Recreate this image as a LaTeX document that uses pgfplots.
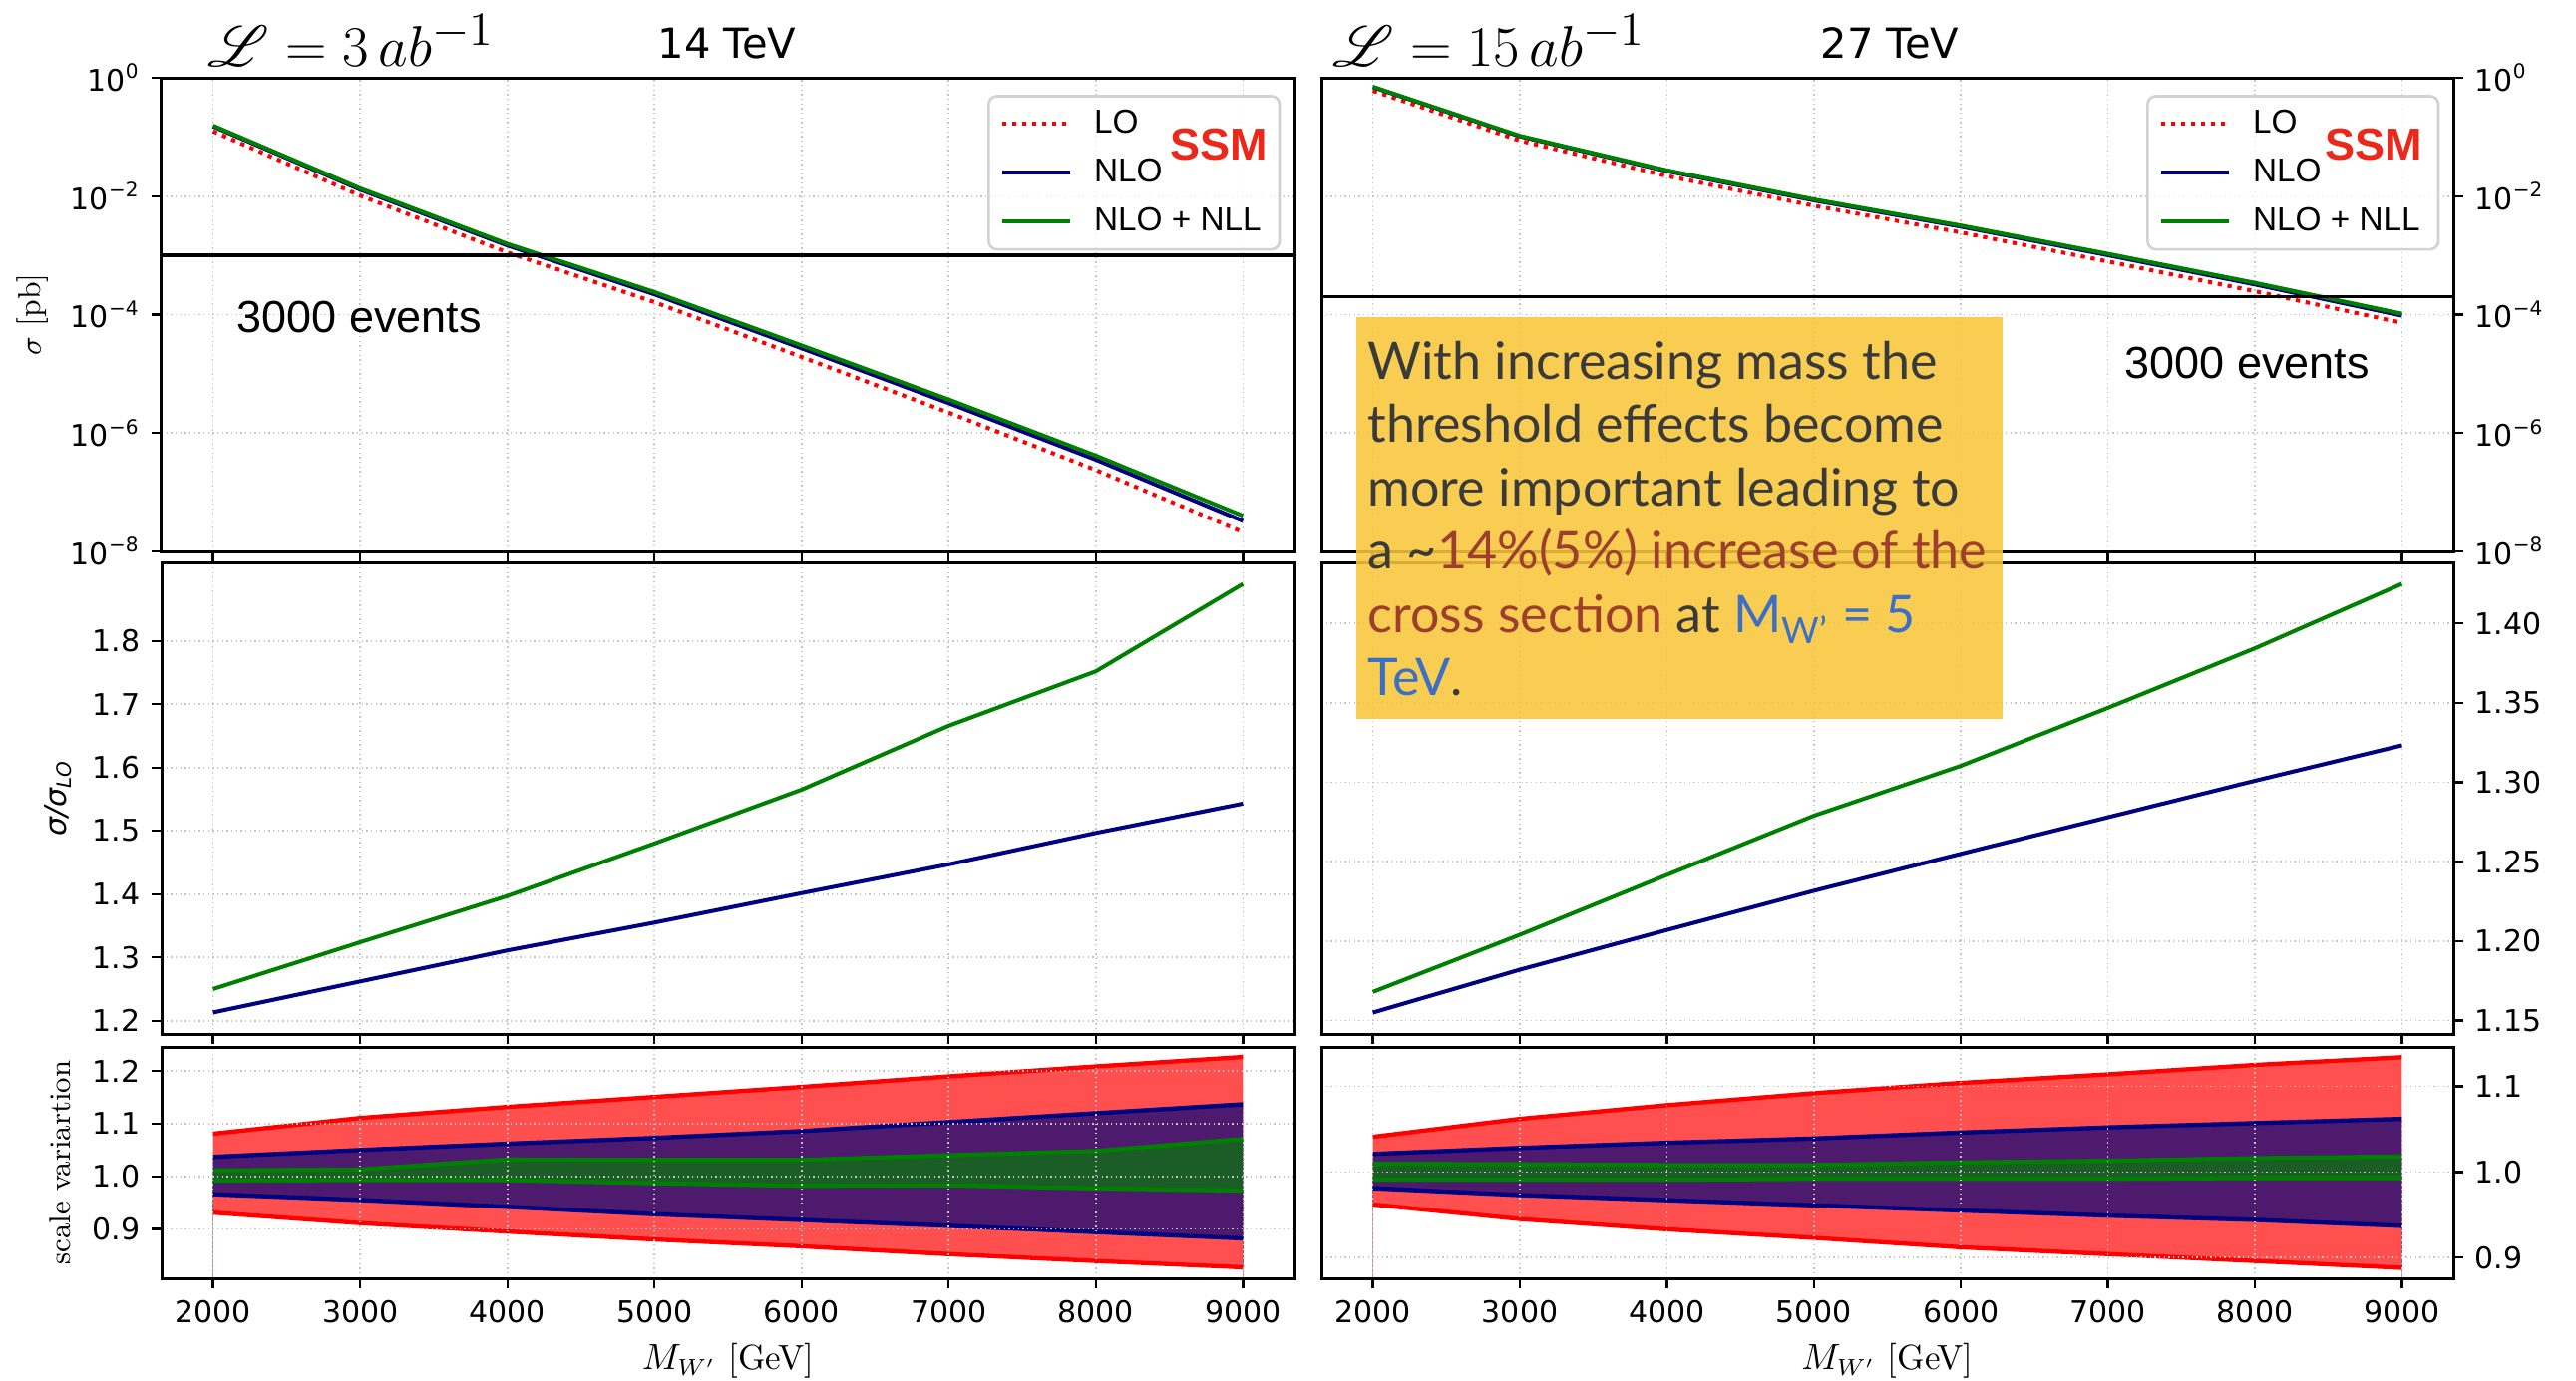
\documentclass[border=0pt]{standalone}
\usepackage{pgfplots}
\pgfplotsset{compat=1.18}
\usepackage{pgfplotstable}
\usepackage{mathrsfs}
\usepackage{fontspec}
\newfontfamily\dejavu{DejaVu Sans}
\newfontfamily\arial{Liberation Sans}
\newfontfamily\boxfont{Lato}

\definecolor{lored}{RGB}{255,0,0}
\definecolor{nlonavy}{RGB}{0,0,128}
\definecolor{nllgreen}{RGB}{0,128,0}
\definecolor{redfill}{RGB}{255,79,79}
\definecolor{purplefill}{RGB}{78,26,110}
\definecolor{greenfill}{RGB}{28,92,38}
\definecolor{boxyellow}{RGB}{247,198,58}
\definecolor{boxtext}{RGB}{58,58,58}
\definecolor{boxred}{RGB}{158,63,46}
\definecolor{boxblue}{RGB}{60,111,198}
\definecolor{ssmred}{RGB}{235,40,25}

% cross sections [pb], 14 TeV
\pgfplotstableread{
m lo nlo nll
2000 0.1245 0.1510 0.1556
3000 0.01023 0.01291 0.01354
4000 1.122e-3 1.471e-3 1.567e-3
5000 1.622e-4 2.198e-4 2.401e-4
6000 1.928e-5 2.702e-5 3.017e-5
7000 2.213e-6 3.202e-6 3.687e-6
8000 2.371e-7 3.549e-7 4.154e-7
9000 2.113e-8 3.260e-8 3.994e-8
}\xsecL
% cross sections [pb], 27 TeV
\pgfplotstableread{
m lo nlo nll
2000 0.6026 0.6960 0.7038
3000 0.08690 0.10272 0.10463
4000 0.02198 0.02653 0.02729
5000 6.902e-3 8.501e-3 8.828e-3
6000 2.438e-3 3.060e-3 3.195e-3
7000 7.889e-4 1.008e-3 1.0626e-3
8000 2.483e-4 3.230e-4 3.437e-4
9000 7.261e-5 9.609e-5 1.0347e-4
}\xsecR
% ratios to LO
\pgfplotstableread{
m rnlo rnll
2000 1.213 1.250
3000 1.262 1.324
4000 1.311 1.397
5000 1.355 1.480
6000 1.4015 1.565
7000 1.447 1.666
8000 1.4967 1.752
9000 1.543 1.890
}\ratioL
\pgfplotstableread{
m rnlo rnll
2000 1.155 1.168
3000 1.182 1.204
4000 1.207 1.2417
5000 1.2317 1.279
6000 1.255 1.3104
7000 1.278 1.3469
8000 1.301 1.3844
9000 1.3233 1.425
}\ratioR
% scale variation bands
\pgfplotstableread{
m ru rl bu bl gu gl
2000 1.081 0.931 1.037 0.966 1.011 0.992
3000 1.111 0.911 1.050 0.955 1.013 0.993
4000 1.132 0.895 1.062 0.942 1.032 0.993
5000 1.151 0.880 1.073 0.928 1.031 0.987
6000 1.170 0.867 1.086 0.917 1.031 0.982
7000 1.190 0.852 1.103 0.906 1.040 0.983
8000 1.209 0.839 1.120 0.894 1.048 0.977
9000 1.227 0.827 1.137 0.882 1.071 0.973
}\bandL
\pgfplotstableread{
m ru rl bu bl gu gl
2000 1.041 0.962 1.021 0.981 1.0095 0.991
3000 1.062 0.945 1.028 0.973 1.009 0.991
4000 1.078 0.933 1.034 0.967 1.008 0.991
5000 1.092 0.923 1.039 0.961 1.008 0.992
6000 1.104 0.912 1.046 0.955 1.011 0.992
7000 1.114 0.904 1.052 0.949 1.013 0.992
8000 1.125 0.896 1.057 0.944 1.016 0.993
9000 1.134 0.888 1.062 0.937 1.018 0.993
}\bandR

\pgfplotsset{
  base/.style={
    scale only axis, anchor=north west,
    xmin=1650, xmax=9350,
    xtick={2000,3000,4000,5000,6000,7000,8000,9000},
    grid=major,
    major grid style={densely dotted, gray!45, line width=0.5pt},
    tick align=outside, major tick length=3pt,
    xtick pos=left,
    axis line style={line width=0.9pt},
    tick style={black, line width=0.7pt},
    ticklabel style={font=\dejavu\fontsize{9}{10}\selectfont},
    legend image code/.code={\draw[##1] (0pt,0pt) -- (20.5pt,0pt);},
    legend style={draw=gray!35, line width=0.8pt, rounded corners=2.5pt,
      fill=white, fill opacity=0.8, text opacity=1,
      font=\arial\fontsize{10}{12}\selectfont,
      row sep=2pt, column sep=4.5pt, inner xsep=3.5pt, inner ysep=2pt,
      cells={anchor=west, inner sep=0pt, text height=7.2pt, text depth=0pt}},
  },
  lostyle/.style={lored, line width=1.2pt, dash pattern=on 1.3pt off 1.7pt},
  nlostyle/.style={nlonavy, line width=1.2pt},
  nllstyle/.style={nllgreen, line width=1.2pt},
  xlabs/.style={xticklabels={2000,3000,4000,5000,6000,7000,8000,9000}},
  band/.style={draw=none, fill=#1},
  edge/.style={#1, line width=1.3pt},
}

\begin{document}
\begin{tikzpicture}
\useasboundingbox (0,0) rectangle (774.9pt,-415.2pt);

% ---------------- top left
\begin{axis}[base, at={(48.6pt,-23.4pt)}, width=340.8pt, height=142.5pt,
  ymode=log, ymin=1e-8, ymax=1, yminorticks=false,
  ytick={1,1e-2,1e-4,1e-6,1e-8},
  yticklabels={10\textsuperscript{0},10\textsuperscript{−2},10\textsuperscript{−4},10\textsuperscript{−6},10\textsuperscript{−8}},
  ytick pos=left, xticklabels={},
  legend style={at={(0.988,0.964)}, anchor=north east}]
\addplot[lostyle] table[x=m,y=lo]{\xsecL}; \addlegendentry{LO}
\addplot[nlostyle] table[x=m,y=nlo]{\xsecL}; \addlegendentry{NLO}
\addplot[nllstyle] table[x=m,y=nll]{\xsecL}; \addlegendentry{NLO + NLL}
\addplot[black, line width=1pt, forget plot] coordinates {(1650,1e-3) (9350,1e-3)};
\end{axis}

% ---------------- top right
\begin{axis}[base, at={(397.5pt,-23.4pt)}, width=340.5pt, height=142.5pt,
  ymode=log, ymin=1e-8, ymax=1, yminorticks=false,
  ytick={1,1e-2,1e-4,1e-6,1e-8},
  yticklabels={10\textsuperscript{0},10\textsuperscript{−2},10\textsuperscript{−4},10\textsuperscript{−6},10\textsuperscript{−8}},
  ytick pos=right, yticklabel pos=right, xticklabels={},
  legend style={at={(0.988,0.964)}, anchor=north east}]
\addplot[lostyle] table[x=m,y=lo]{\xsecR}; \addlegendentry{LO}
\addplot[nlostyle] table[x=m,y=nlo]{\xsecR}; \addlegendentry{NLO}
\addplot[nllstyle] table[x=m,y=nll]{\xsecR}; \addlegendentry{NLO + NLL}
\addplot[black, line width=1pt, forget plot] coordinates {(1650,2e-4) (9350,2e-4)};
\end{axis}

% ---------------- middle left
\begin{axis}[base, at={(48.6pt,-169.2pt)}, width=340.8pt, height=141.9pt,
  ymin=1.179, ymax=1.924,
  ytick={1.2,1.3,1.4,1.5,1.6,1.7,1.8},
  yticklabels={1.2,1.3,1.4,1.5,1.6,1.7,1.8},
  ytick pos=left, xticklabels={}]
\addplot[nlostyle] table[x=m,y=rnlo]{\ratioL};
\addplot[nllstyle] table[x=m,y=rnll]{\ratioL};
\end{axis}

% ---------------- middle right
\begin{axis}[base, at={(397.5pt,-169.2pt)}, width=340.5pt, height=141.9pt,
  ymin=1.1415, ymax=1.4385,
  ytick={1.15,1.20,1.25,1.30,1.35,1.40},
  yticklabels={1.15,1.20,1.25,1.30,1.35,1.40},
  ytick pos=right, yticklabel pos=right, xticklabels={}]
\addplot[nlostyle] table[x=m,y=rnlo]{\ratioR};
\addplot[nllstyle] table[x=m,y=rnll]{\ratioR};
\end{axis}

% ---------------- bottom left (nested bands built by stacking fills)
\begin{axis}[base, xlabs, axis on top, at={(48.6pt,-315pt)}, width=340.8pt, height=69.6pt,
  ymin=0.806, ymax=1.246,
  ytick={0.9,1.0,1.1,1.2}, yticklabels={0.9,1.0,1.1,1.2},
  ytick pos=left]
\addplot[band=redfill] table[x=m,y=ru]{\bandL} \closedcycle;
\addplot[band=purplefill] table[x=m,y=bu]{\bandL} \closedcycle;
\addplot[band=greenfill] table[x=m,y=gu]{\bandL} \closedcycle;
\addplot[band=purplefill] table[x=m,y=gl]{\bandL} \closedcycle;
\addplot[band=redfill] table[x=m,y=bl]{\bandL} \closedcycle;
\addplot[band=white] table[x=m,y=rl]{\bandL} \closedcycle;
\addplot[edge=red] table[x=m,y=ru]{\bandL};
\addplot[edge=red] table[x=m,y=rl]{\bandL};
\addplot[edge=nlonavy] table[x=m,y=bu]{\bandL};
\addplot[edge=nlonavy] table[x=m,y=bl]{\bandL};
\addplot[edge=nllgreen] table[x=m,y=gu]{\bandL};
\addplot[edge=nllgreen] table[x=m,y=gl]{\bandL};
\end{axis}

% ---------------- bottom right
\begin{axis}[base, xlabs, axis on top, at={(397.5pt,-315pt)}, width=340.5pt, height=69.6pt,
  ymin=0.8757, ymax=1.146,
  ytick={0.9,1.0,1.1}, yticklabels={0.9,1.0,1.1},
  ytick pos=right, yticklabel pos=right]
\addplot[band=redfill] table[x=m,y=ru]{\bandR} \closedcycle;
\addplot[band=purplefill] table[x=m,y=bu]{\bandR} \closedcycle;
\addplot[band=greenfill] table[x=m,y=gu]{\bandR} \closedcycle;
\addplot[band=purplefill] table[x=m,y=gl]{\bandR} \closedcycle;
\addplot[band=redfill] table[x=m,y=bl]{\bandR} \closedcycle;
\addplot[band=white] table[x=m,y=rl]{\bandR} \closedcycle;
\addplot[edge=red] table[x=m,y=ru]{\bandR};
\addplot[edge=red] table[x=m,y=rl]{\bandR};
\addplot[edge=nlonavy] table[x=m,y=bu]{\bandR};
\addplot[edge=nlonavy] table[x=m,y=bl]{\bandR};
\addplot[edge=nllgreen] table[x=m,y=gu]{\bandR};
\addplot[edge=nllgreen] table[x=m,y=gl]{\bandR};
\end{axis}

% ---------------- titles
\node[anchor=base west, inner sep=0pt, font=\fontsize{19}{22}\selectfont] at (62.4pt,-20pt) {$\mathscr{L} = 3\,ab^{-1}$};
\node[anchor=base west, inner sep=0pt, font=\dejavu\fontsize{12.5}{14}\selectfont] at (197.7pt,-17.4pt) {14 TeV};
\node[anchor=base west, inner sep=0pt, font=\fontsize{19}{22}\selectfont] at (400.8pt,-20pt) {$\mathscr{L} = 15\,ab^{-1}$};
\node[anchor=base west, inner sep=0pt, font=\dejavu\fontsize{12.5}{14}\selectfont] at (547.5pt,-17.4pt) {27 TeV};

% ---------------- SSM and events
\node[font=\arial\bfseries\fontsize{13.5}{15}\selectfont, text=ssmred, inner sep=0pt] at (366.75pt,-43.5pt) {SSM};
\node[font=\arial\bfseries\fontsize{13.5}{15}\selectfont, text=ssmred, inner sep=0pt] at (714.15pt,-43.5pt) {SSM};
\node[anchor=west, inner sep=0pt, font=\arial\fontsize{13.5}{15}\selectfont] at (71.1pt,-95.4pt) {3000 events};
\node[anchor=west, inner sep=0pt, font=\arial\fontsize{13.5}{15}\selectfont] at (639pt,-109.2pt) {3000 events};

% ---------------- axis labels
\node[rotate=90, font=\fontsize{9.5}{11}\selectfont] at (9.9pt,-94.65pt) {$\sigma$ [pb]};
\node[rotate=90, font=\dejavu\itshape\fontsize{9}{11}\selectfont] at (17.4pt,-240.15pt) {σ/σ\textsubscript{LO}};
\node[rotate=90, font=\fontsize{9}{11}\selectfont] at (18pt,-349.8pt) {scale variartion};
\node[font=\fontsize{10.5}{12}\selectfont] at (219pt,-409.5pt) {$M_{W'}$ [GeV]};
\node[font=\fontsize{10.5}{12}\selectfont] at (567.75pt,-409.5pt) {$M_{W'}$ [GeV]};

% ---------------- annotation box
\path[fill=boxyellow, fill opacity=0.88] (408pt,-95.4pt) rectangle (602.4pt,-216.3pt);
\node[anchor=base west, align=left, inner sep=0pt, text=boxtext,
  font=\boxfont\fontsize{15.6}{19.05}\selectfont] at (411.3pt,-209.3pt)
  {With increasing mass the\\threshold effects become\\more important leading to\\a \textasciitilde{\color{boxred}14\%(5\%) increase of the}\\{\color{boxred}cross section} at {\color{boxblue}M\textsubscript{W’} = 5}\\{\color{boxblue}TeV}.};
\end{tikzpicture}
\end{document}
